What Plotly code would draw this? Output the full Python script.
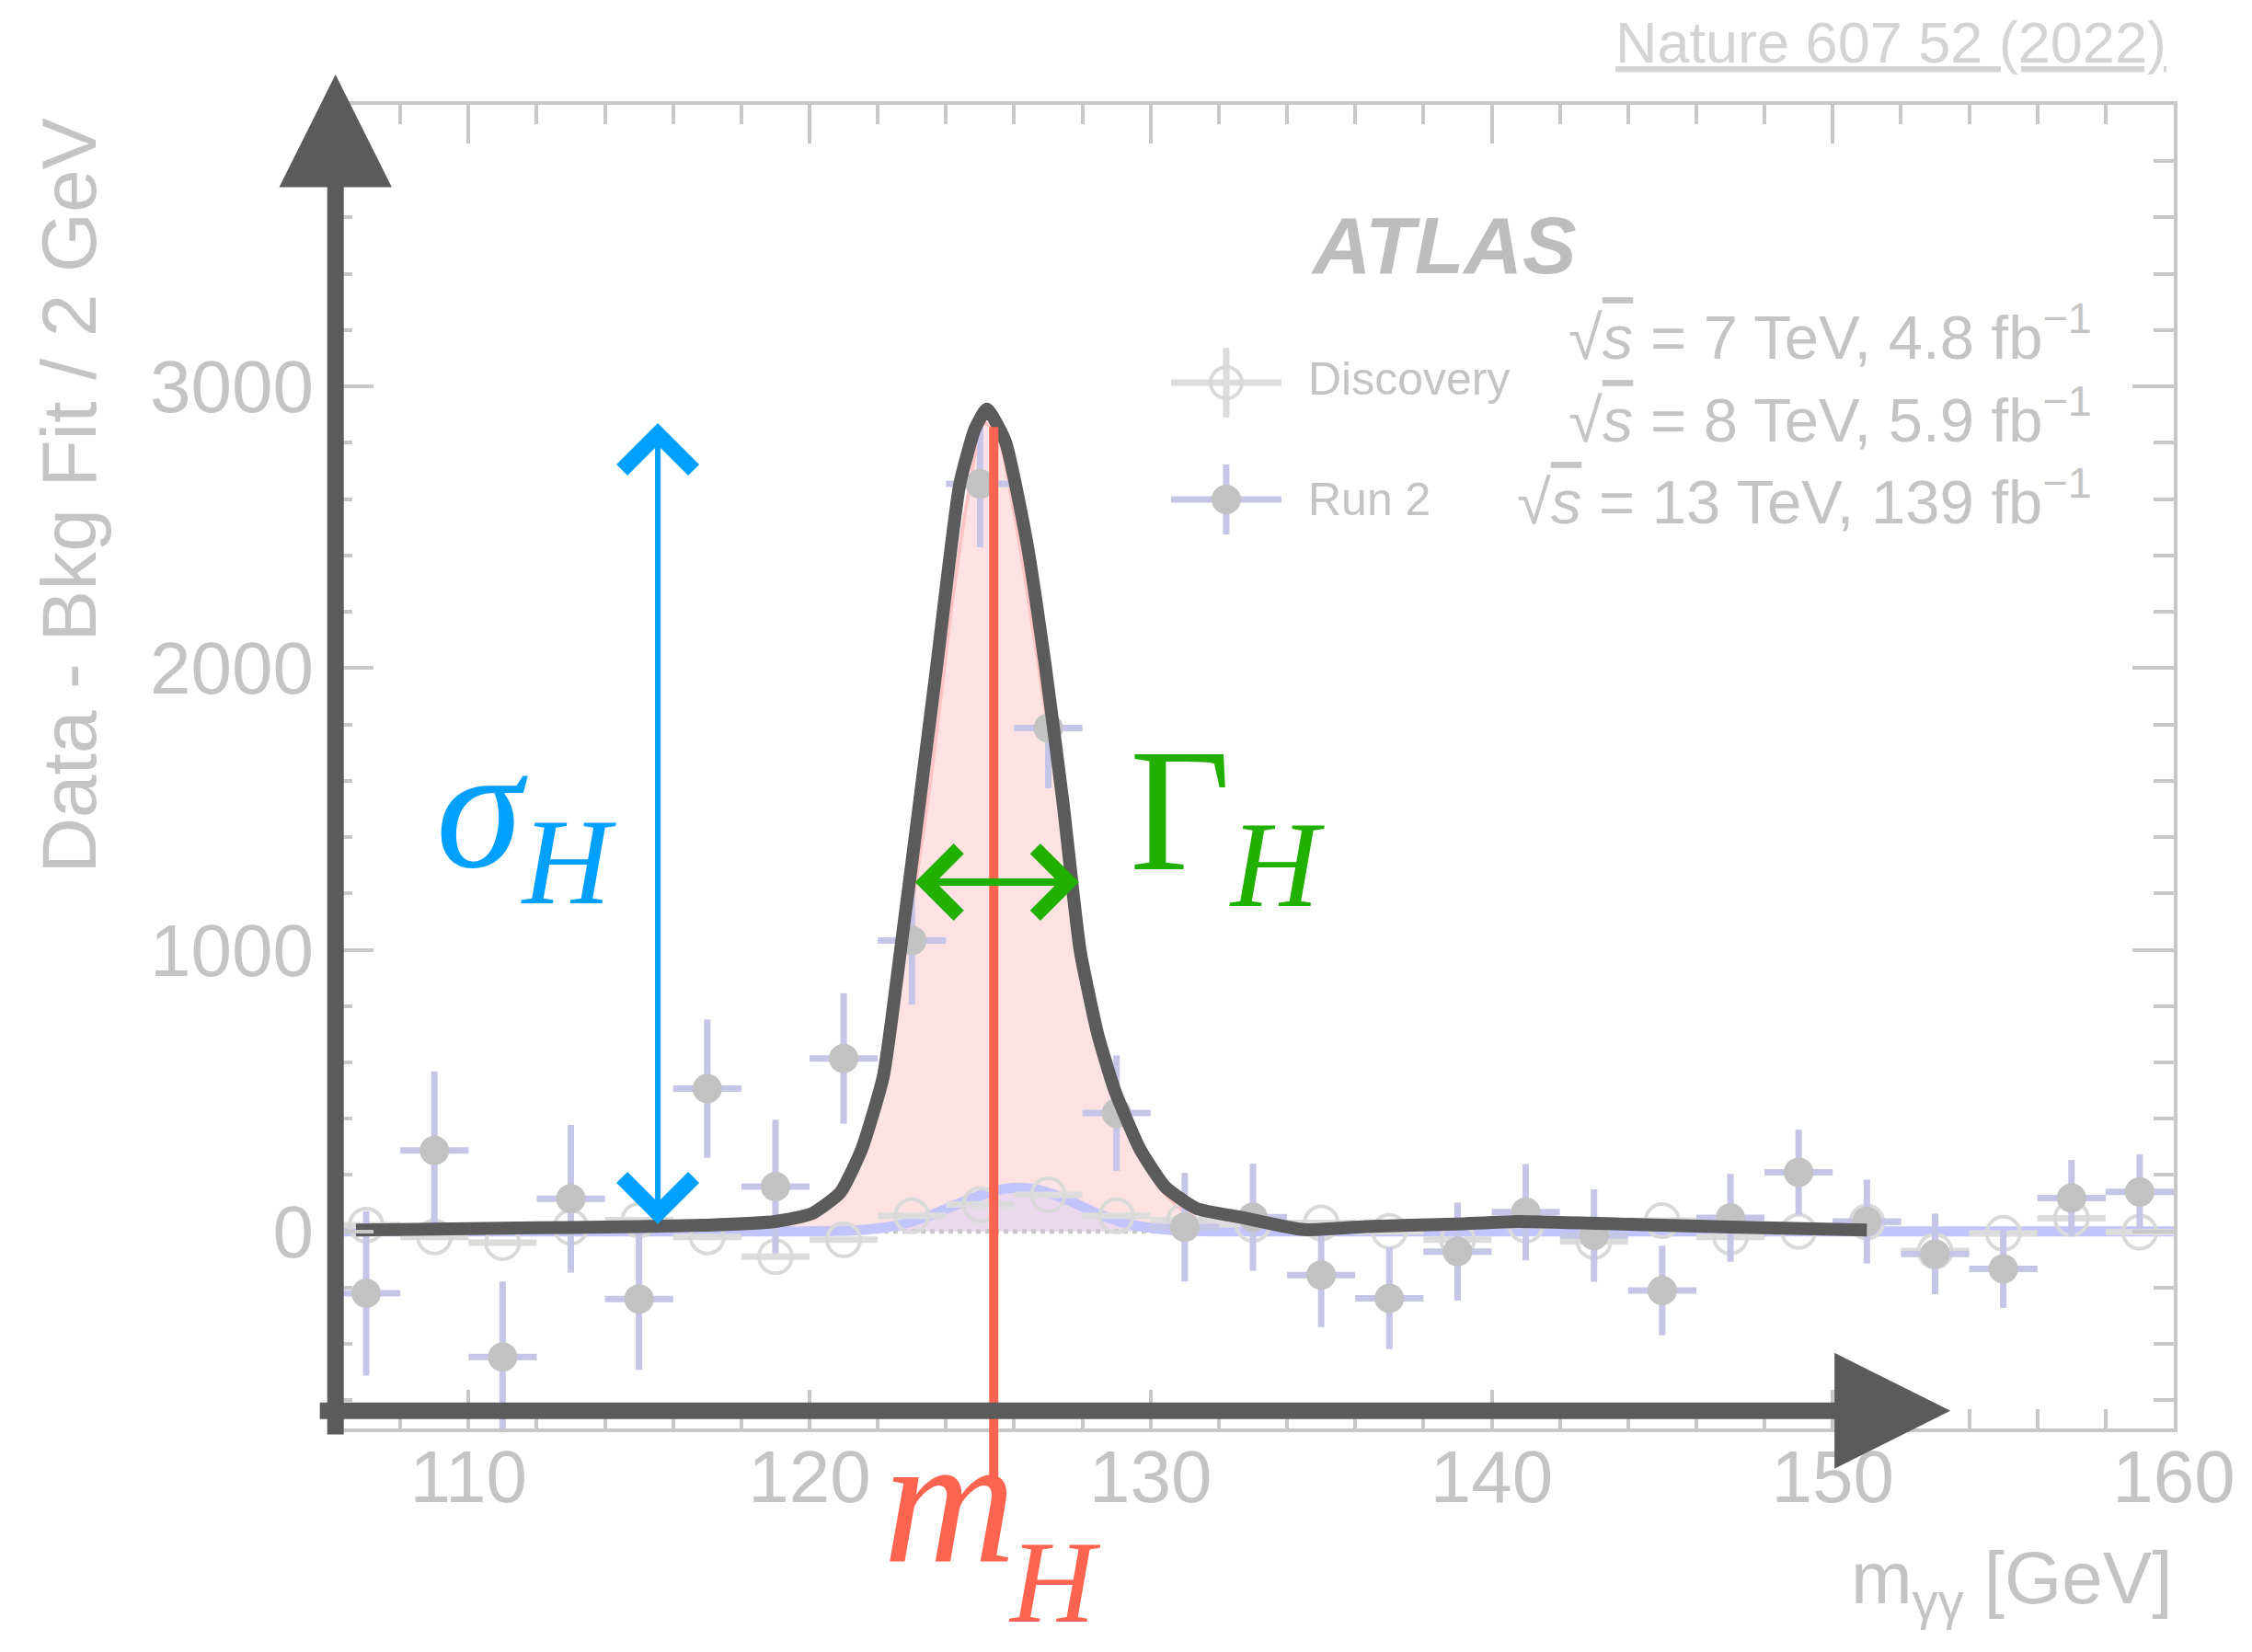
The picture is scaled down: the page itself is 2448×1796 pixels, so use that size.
import plotly.graph_objects as go

# ---------------- data ----------------
bin_centers = [107, 109, 111, 113, 115, 117, 119, 121, 123, 125, 127, 129, 131, 133,
               135, 137, 139, 141, 143, 145, 147, 149, 151, 153, 155, 157, 159]
bin_half_width = [1, 1, 1, 1, 1, 1, 1, 1, 1, 1, 1, 1, 1, 1,
                  1, 1, 1, 1, 1, 1, 1, 1, 1, 1, 1, 1, 1]

run2_y = [-220, 287, -446, 116, -240, 507, 159, 614, 1033, 2654, 1787, 420, 15, 50,
          -155, -238, -72, 68, -15, -210, 48, 210, 35, -80, -133, 118, 140]
run2_err = [292, 280, 268, 262, 252, 246, 238, 232, 228, 225, 214, 205, 193, 190,
            185, 180, 174, 171, 164, 159, 156, 151, 149, 143, 139, 136, 133]

disc_y = [22, -20, -40, 15, 40, -20, -90, -30, 55, 95, 130, 55, 40, 25,
          30, 0, -30, 22, -36, 38, -20, 0, 33, -70, -7, 46, -3]

# hand-drawn total fit (dark sketch line)
sketch_x = [106.7, 109, 111, 113, 115, 117, 119.0, 120.05, 120.9, 121.53, 122.16,
            122.67, 123.2, 123.72, 124.4, 124.85, 125.2, 125.74, 126.37, 126.92,
            127.43, 127.93, 128.45, 128.95, 129.7, 130.43, 131.33, 132.68, 134.48,
            136.27, 138.97, 140.77, 144.0, 147.0, 151.0]
sketch_y = [5, 8, 11, 14, 17, 22, 35, 62, 138, 292, 549,
            1000, 1500, 2000, 2651, 2850, 2920, 2805, 2446, 2000,
            1523, 1000, 700, 500, 289, 158, 82, 49, 6,
            17, 26, 35, 25, 15, 5]

# Run 2 signal component (pink)
pink_x = [118.0, 119.0, 119.8, 120.5, 121.2, 121.8, 122.4, 123.0, 123.6, 124.2, 124.7,
          125.1, 125.5, 126.0, 126.6, 127.2, 127.8, 128.4, 129.0, 129.6, 130.3, 131.0,
          131.8, 133.0]
pink_y = [0, 15, 50, 110, 220, 400, 720, 1150, 1650, 2250, 2650,
          2870, 2830, 2550, 2100, 1620, 1150, 760, 480, 290, 150, 70,
          25, 0]

# Discovery signal component (lavender)
lav_x = [106, 120, 121.5, 122.5, 123.5, 124.5, 125.3, 126.0, 126.8, 127.6, 128.5,
         129.5, 130.5, 132, 160]
lav_y = [0, 0, 5, 20, 55, 105, 140, 155, 145, 110, 60, 22, 6, 0, 0]

zero_x = [106, 160]
zero_y = [0, 0]

x_ticks = [110, 120, 130, 140, 150, 160]
y_ticks = [0, 1000, 2000, 3000]
y_tick_text = ["0", "1000", "2000", "3000"]

m_H = 125.4
gamma_lo, gamma_hi, gamma_level = 123.05, 127.9, 1240
sigma_x, sigma_lo, sigma_hi = 115.55, 20, 2870

# ---------------- styles ----------------
TXT = "#c4c4c4"
FRAME = "#c8c8c8"
DARK = "#5b5b5b"
LAV = "#c4c4fc"
LAV_ERR = "#c5c5e8"
DISC = "#d9d9d9"
SANS = "Liberation Sans, Arial, sans-serif"
SERIF = "Liberation Serif, Times New Roman, serif"

fig = go.Figure()

fig.add_trace(go.Scatter(x=pink_x, y=pink_y, mode="lines", fill="tozeroy",
                         fillcolor="rgba(252,226,226,1)",
                         line=dict(color="#ffc4c4", width=4, shape="spline", smoothing=0.8),
                         hoverinfo="skip", showlegend=False))
fig.add_trace(go.Scatter(x=lav_x, y=lav_y, mode="lines", fill="tozeroy",
                         fillcolor="rgba(200,200,255,0.35)",
                         line=dict(color="rgba(0,0,0,0)", width=0, shape="spline", smoothing=0.8),
                         hoverinfo="skip", showlegend=False))
fig.add_trace(go.Scatter(x=zero_x, y=zero_y, mode="lines",
                         line=dict(color="#c8c8c8", width=5, dash="dot"),
                         hoverinfo="skip", showlegend=False))
fig.add_trace(go.Scatter(x=lav_x, y=lav_y, mode="lines",
                         line=dict(color=LAV, width=11, shape="spline", smoothing=0.8),
                         hoverinfo="skip", showlegend=False))
fig.add_trace(go.Scatter(x=bin_centers, y=disc_y, mode="markers",
                         marker=dict(symbol="circle-open", size=36, color=DISC,
                                     line=dict(width=4, color=DISC)),
                         error_x=dict(type="data", array=bin_half_width, color="#dcdcdc",
                                      thickness=7, width=0),
                         showlegend=False))
fig.add_trace(go.Scatter(x=bin_centers, y=run2_y, mode="markers",
                         marker=dict(symbol="circle", size=32, color="#c2c2c2"),
                         error_x=dict(type="data", array=bin_half_width, color=LAV_ERR,
                                      thickness=7, width=0),
                         error_y=dict(type="data", array=run2_err, color=LAV_ERR,
                                      thickness=7, width=0),
                         showlegend=False))
fig.add_trace(go.Scatter(x=sketch_x, y=sketch_y, mode="lines",
                         line=dict(color=DARK, width=14, shape="spline", smoothing=0.5),
                         hoverinfo="skip", showlegend=False))

annotations = []
annotations.append(dict(x=m_H, y=2856, xref="x", yref="y", axref="x", ayref="y",
                        ax=m_H, ay=-886, text="", showarrow=True, arrowhead=0,
                        arrowwidth=10, arrowcolor="#ff6450"))
annotations.append(dict(x=sigma_x, y=sigma_hi, xref="x", yref="y", axref="x", ayref="y",
                        ax=sigma_x, ay=sigma_lo, text="", showarrow=True,
                        arrowhead=4, startarrowhead=4, arrowside="end+start",
                        arrowsize=2.5, startarrowsize=2.5, arrowwidth=6,
                        arrowcolor="#00a0ff"))
annotations.append(dict(x=gamma_hi, y=gamma_level, xref="x", yref="y", axref="x", ayref="y",
                        ax=gamma_lo, ay=gamma_level, text="", showarrow=True,
                        arrowhead=4, startarrowhead=4, arrowside="end+start",
                        arrowsize=1.75, startarrowsize=1.75, arrowwidth=8,
                        arrowcolor="#22b000"))
annotations.append(dict(x=106.1, y=1.0229, xref="x", yref="paper", axref="pixel", ayref="pixel",
                        ax=0, ay=1480, text="", showarrow=True, arrowhead=2,
                        arrowsize=1.36, arrowwidth=18, arrowcolor=DARK))
annotations.append(dict(x=153.45, y=-637, xref="x", yref="y", axref="x", ayref="y",
                        ax=105.6, ay=-637, text="", showarrow=True, arrowhead=2,
                        arrowsize=1.4, arrowwidth=18, arrowcolor=DARK))

annotations.append(dict(x=111.7, y=1460, xref="x", yref="y", showarrow=False,
                        text="<i>σ</i><sub><i>H</i></sub>",
                        font=dict(family=SERIF, size=190, color="#00a0ff")))
annotations.append(dict(x=132.25, y=1450, xref="x", yref="y", showarrow=False,
                        text="Γ<sub><i>H</i></sub>",
                        font=dict(family=SERIF, size=190, color="#22b000")))
annotations.append(dict(x=124.1, y=-0.132, xref="x", yref="paper", showarrow=False,
                        yanchor="bottom", text="<i>m</i>",
                        font=dict(family=SERIF, size=200, color="#ff6450")))
annotations.append(dict(x=127.2, y=-0.1665, xref="x", yref="paper", showarrow=False,
                        yanchor="bottom", text="<i>H</i>",
                        font=dict(family=SERIF, size=128, color="#ff6450")))

annotations.append(dict(x=0.6034, y=0.930, xref="paper", yref="paper", showarrow=False,
                        text="<b><i>ATLAS</i></b>",
                        font=dict(family=SANS, size=88, color="#bdbdbd")))
SQ = "√<span style='text-decoration:overline'><i>s</i></span>"
for txt, yy in [(SQ + " = 7 TeV, 4.8 fb<sup>−1</sup>", 0.8275),
                (SQ + " = 8 TeV, 5.9 fb<sup>−1</sup>", 0.765),
                (SQ + " = 13 TeV, 139 fb<sup>−1</sup>", 0.7032)]:
    annotations.append(dict(x=0.9565, y=yy, xref="paper", yref="paper", showarrow=False,
                            xanchor="right", yanchor="middle", text=txt,
                            font=dict(family=SANS, size=67, color=TXT)))
annotations.append(dict(x=0.997, y=1.0473, xref="paper", yref="paper", showarrow=False,
                        xanchor="right", yanchor="middle",
                        text="<span style='text-decoration:underline'>Nature 607 52 (2022)</span>",
                        font=dict(family=SANS, size=63, color="#d4d4d4")))
annotations.append(dict(x=-0.1429, y=0.7047, xref="paper", yref="paper", showarrow=False,
                        textangle=-90, xanchor="center", yanchor="middle",
                        text="Data - Bkg Fit / 2 GeV",
                        font=dict(family=SANS, size=84, color=TXT)))
annotations.append(dict(x=1.0, y=-0.1174, xref="paper", yref="paper", showarrow=False,
                        xanchor="right", yanchor="middle",
                        text="m<sub>γγ</sub> [GeV]",
                        font=dict(family=SANS, size=80, color=TXT)))
annotations.append(dict(x=0.529, y=0.7929, xref="paper", yref="paper", showarrow=False,
                        xanchor="left", yanchor="middle", text="Discovery",
                        font=dict(family=SANS, size=50, color=TXT)))
annotations.append(dict(x=0.529, y=0.7019, xref="paper", yref="paper", showarrow=False,
                        xanchor="left", yanchor="middle", text="Run 2",
                        font=dict(family=SANS, size=50, color=TXT)))

shapes = []
def legend_symbol(xp, yp, bar_color, open_marker):
    shapes.append(dict(type="line", xref="paper", yref="paper", xsizemode="pixel",
                       ysizemode="pixel", xanchor=xp, yanchor=yp, x0=-60, x1=60, y0=0, y1=0,
                       line=dict(color=bar_color, width=7)))
    shapes.append(dict(type="line", xref="paper", yref="paper", xsizemode="pixel",
                       ysizemode="pixel", xanchor=xp, yanchor=yp, x0=0, x1=0, y0=-38, y1=38,
                       line=dict(color=bar_color, width=7)))
    if open_marker:
        shapes.append(dict(type="circle", xref="paper", yref="paper", xsizemode="pixel",
                           ysizemode="pixel", xanchor=xp, yanchor=yp, x0=-17, x1=17,
                           y0=-17, y1=17, line=dict(color=DISC, width=4)))
    else:
        shapes.append(dict(type="circle", xref="paper", yref="paper", xsizemode="pixel",
                           ysizemode="pixel", xanchor=xp, yanchor=yp, x0=-16, x1=16,
                           y0=-16, y1=16, fillcolor="#c2c2c2", line=dict(width=0)))

legend_symbol(0.4855, 0.7901, "#dcdcdc", True)
legend_symbol(0.4855, 0.7019, LAV_ERR, False)

axis_common = dict(showgrid=False, zeroline=False, showline=True, linecolor=FRAME,
                   linewidth=4, mirror="ticks", ticks="inside", tickcolor=FRAME,
                   tickwidth=4, tickfont=dict(family=SANS, size=80, color=TXT))

fig.update_layout(
    width=2448, height=1796, autosize=False,
    margin=dict(l=361, r=85, t=114, b=243),
    paper_bgcolor="white", plot_bgcolor="white",
    xaxis=dict(range=[106, 160], tickvals=x_ticks, ticklen=42, ticklabelstandoff=-20,
               minor=dict(dtick=2, tick0=106, ticklen=21, ticks="inside",
                          tickcolor=FRAME, tickwidth=4),
               **axis_common),
    yaxis=dict(range=[-700, 4000], tickvals=y_ticks, ticktext=y_tick_text, ticklen=45,
               minor=dict(dtick=200, tick0=0, ticklen=22, ticks="inside",
                          tickcolor=FRAME, tickwidth=4),
               **axis_common),
    annotations=annotations,
    shapes=shapes,
    showlegend=False,
)

fig.write_html("out.html")
